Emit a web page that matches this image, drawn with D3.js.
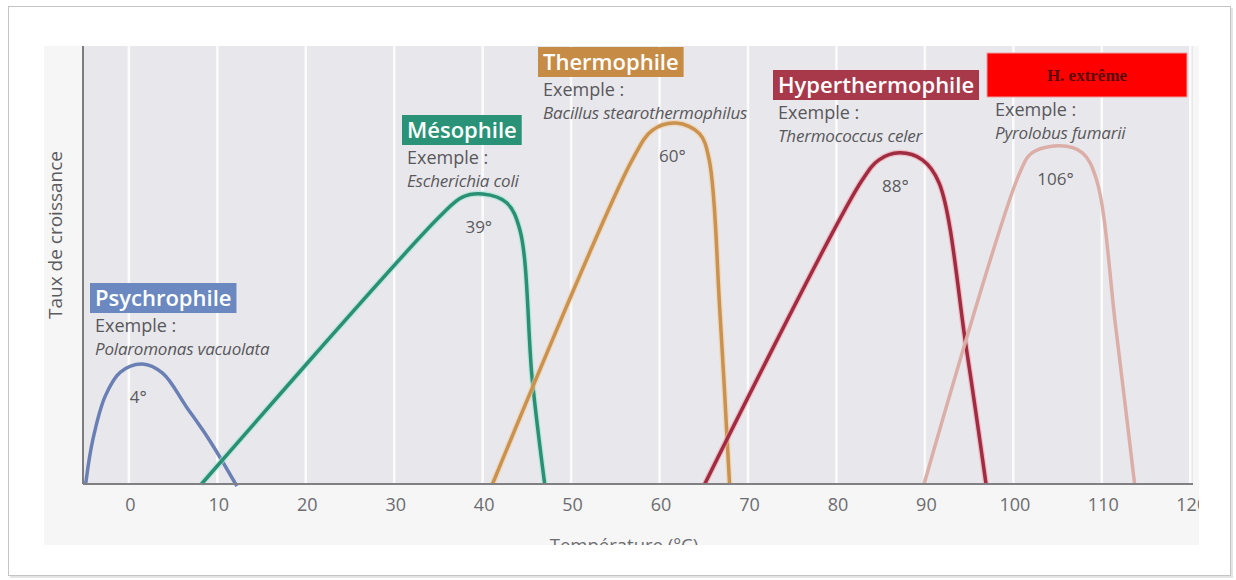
<!DOCTYPE html>
<html lang="fr">
<head>
<meta charset="UTF-8" />
<script src="https://cdnjs.cloudflare.com/ajax/libs/d3/7.8.5/d3.min.js"></script>
<title>Taux de croissance selon la température</title>
<style>
body { margin: 0; background: #fff; }
svg { display: block; font-family: "Open Sans", "Noto Sans", sans-serif; }
</style>
</head>
<body>
<svg id="chart" width="1236" height="580"></svg>
<script>

// groups, examples and optimum labels
const groups = ['Psychrophile', 'Mésophile', 'Thermophile', 'Hyperthermophile', 'H. extrême'];
const examples = ['Polaromonas vacuolata', 'Escherichia coli', 'Bacillus stearothermophilus', 'Thermococcus celer', 'Pyrolobus fumarii'];
const optimumLabels = ['4°', '39°', '60°', '88°', '106°'];
const xTicks = [0, 10, 20, 30, 40, 50, 60, 70, 80, 90, 100, 110, 120];

// growth curves: temperature (°C) and growth rate (0-100 of plot height)
const psychroT = [-5, -4.2, -2.8, -1.1, 1.4, 3.7, 6.4, 9.0, 12.1];
const psychroV = [0, 10, 20, 25.5, 27.4, 25.3, 17.6, 10, -0.5];
const mesoT = [8.1, 35, 37.6, 39.9, 42.6, 44.1, 45.5, 46.9];
const mesoV = [0, 61, 65.5, 66.2, 64.2, 58, 23.7, 0];
const thermoT = [41, 56.8, 59.1, 61.8, 64.4, 65.5, 66.7, 67.8];
const thermoV = [0, 74, 80.8, 82.4, 80, 74, 39.7, 0];
const hyperT = [65, 82.8, 84.7, 87, 89.6, 91.5, 94.6, 96.8];
const hyperV = [0, 69.4, 74, 75.6, 74, 68.7, 30.6, 0];
const extremeT = [89.8, 100.6, 102, 105.1, 107.7, 109.3, 111.5, 113.6];
const extremeV = [0, 71, 75.6, 77.2, 75.6, 69.4, 35.2, 0];

const lineColors = ['#6a80b4', '#2b8f74', '#c99250', '#a02c42', '#dcaea8'];
const boxColors = ['#6b89c0', '#2a9377', '#c68b45', '#a8394b', '#ff0000'];
const haloColors = [null, '#9fe6d6', '#f2cfa0', '#f0a3ad', null];

// label layout (pixels): box left, box top
const boxPos = [[90, 283], [402, 115], [538, 47], [773, 70], [987, 53]];

const series = [
  { T: psychroT, V: psychroV },
  { T: mesoT, V: mesoV },
  { T: thermoT, V: thermoV },
  { T: hyperT, V: hyperV },
  { T: extremeT, V: extremeV }
].map((s, i) => ({
  name: groups[i],
  example: examples[i],
  optimum: optimumLabels[i],
  points: s.T.map((t, j) => ({ t: t, v: s.V[j] }))
}));

const plot = { left: 83, right: 1193, top: 46, bottom: 484 };

const x = d3.scaleLinear().domain([-5.3, 120.2]).range([plot.left, plot.right]);
const y = d3.scaleLinear().domain([0, 100]).range([plot.bottom, plot.top]);

const svg = d3.select('#chart');

// photo frame
svg.append('rect')
  .attr('x', 10).attr('y', 8).attr('width', 1223).attr('height', 570)
  .attr('fill', '#e4e4e4');
svg.append('rect')
  .attr('x', 8.5).attr('y', 6.5).attr('width', 1222).attr('height', 569)
  .attr('fill', '#fff')
  .attr('stroke', '#c4c4c4');

svg.append('defs').append('clipPath').attr('id', 'photo')
  .append('rect').attr('x', 44).attr('y', 40).attr('width', 1155).attr('height', 505);

const g = svg.append('g').attr('clip-path', 'url(#photo)');

g.append('rect')
  .attr('x', 44).attr('y', 46).attr('width', 1155).attr('height', 499)
  .attr('fill', '#f6f6f7');

g.append('rect')
  .attr('x', plot.left).attr('y', plot.top)
  .attr('width', plot.right - plot.left).attr('height', plot.bottom - plot.top)
  .attr('fill', '#e8e7eb');

// white vertical grid
g.append('g')
  .selectAll('line')
  .data(xTicks.filter(d => x(d) < plot.right))
  .join('line')
  .attr('x1', d => x(d) - 1).attr('x2', d => x(d) - 1)
  .attr('y1', plot.top).attr('y2', plot.bottom)
  .attr('stroke', '#fbfbfc')
  .attr('stroke-width', 2.5);

// left axis line
g.append('line')
  .attr('x1', plot.left).attr('x2', plot.left)
  .attr('y1', plot.top).attr('y2', plot.bottom)
  .attr('stroke', '#7d7d80').attr('stroke-width', 2);

// x axis
const xAxis = g.append('g')
  .attr('transform', `translate(0,${plot.bottom})`)
  .call(d3.axisBottom(x).tickValues(xTicks).tickSize(0).tickPadding(14));
xAxis.select('.domain').remove();
xAxis.selectAll('text')
  .attr('fill', '#6c6c70')
  .style('font-size', '18px')
  .style('font-family', '"Open Sans", sans-serif');

g.append('text')
  .attr('x', 624).attr('y', 552)
  .attr('text-anchor', 'middle')
  .attr('fill', '#6c6c70')
  .style('font-size', '18.5px')
  .text('Température (°C)');

g.append('text')
  .attr('transform', 'translate(62,235) rotate(-90)')
  .attr('text-anchor', 'middle')
  .attr('fill', '#5c5c60')
  .style('font-size', '19px')
  .text('Taux de croissance');

// curves
const line = d3.line()
  .x(d => x(d.t))
  .y(d => y(d.v))
  .curve(d3.curveCatmullRom.alpha(0.5));

series.forEach((s, i) => {
  if (haloColors[i]) {
    g.append('path')
      .attr('d', line(s.points))
      .attr('fill', 'none')
      .attr('stroke', haloColors[i])
      .attr('stroke-opacity', 0.6)
      .attr('stroke-width', 6);
  }
  g.append('path')
    .attr('d', line(s.points))
    .attr('fill', 'none')
    .attr('stroke', lineColors[i])
    .attr('stroke-width', 3.5)
    .attr('stroke-linejoin', 'round');
});

g.append('line')
  .attr('x1', plot.left).attr('x2', plot.right)
  .attr('y1', plot.bottom).attr('y2', plot.bottom)
  .attr('stroke', '#808084').attr('stroke-width', 2);

// optimum temperature labels
series.forEach(s => {
  const peak = s.points.reduce((a, b) => (b.v > a.v ? b : a));
  g.append('text')
    .attr('x', x(peak.t) - 4)
    .attr('y', y(peak.v) + 39)
    .attr('text-anchor', 'middle')
    .attr('fill', '#5a5a5e')
    .style('font-size', '17px')
    .text(s.optimum);
});

// group labels
series.forEach((s, i) => {
  const [bx, by] = boxPos[i];
  const lg = g.append('g');
  let boxH = 30;
  if (i === 4) {
    boxH = 44;
    lg.append('rect')
      .attr('x', bx).attr('y', by).attr('width', 200).attr('height', boxH)
      .attr('fill', boxColors[i])
      .attr('stroke', '#f0a0a0').attr('stroke-width', 1);
    lg.append('text')
      .attr('x', bx + 100).attr('y', by + 28)
      .attr('text-anchor', 'middle')
      .attr('fill', '#5a0808')
      .style('font-family', '"Liberation Serif", "DejaVu Serif", serif')
      .style('font-size', '17px')
      .style('font-weight', '600')
      .text(s.name);
  } else {
    const rect = lg.append('rect')
      .attr('x', bx).attr('y', by).attr('height', boxH)
      .attr('fill', boxColors[i]);
    const t = lg.append('text')
      .attr('x', bx + 5).attr('y', by + 23)
      .attr('fill', '#fff')
      .style('font-size', '22px')
      .style('font-weight', '600')
      .text(s.name);
    rect.attr('width', t.node().getComputedTextLength() + 10);
  }
  const tx = i === 4 ? bx + 8 : bx + 5;
  lg.append('text')
    .attr('x', tx).attr('y', by + boxH + 19)
    .attr('fill', '#58585c')
    .style('font-size', '18px')
    .text('Exemple :');
  lg.append('text')
    .attr('x', tx).attr('y', by + boxH + 42)
    .attr('fill', '#58585c')
    .style('font-size', '17px')
    .style('font-style', 'italic')
    .style('letter-spacing', '-0.2px')
    .text(s.example);
});

</script>
</body>
</html>
